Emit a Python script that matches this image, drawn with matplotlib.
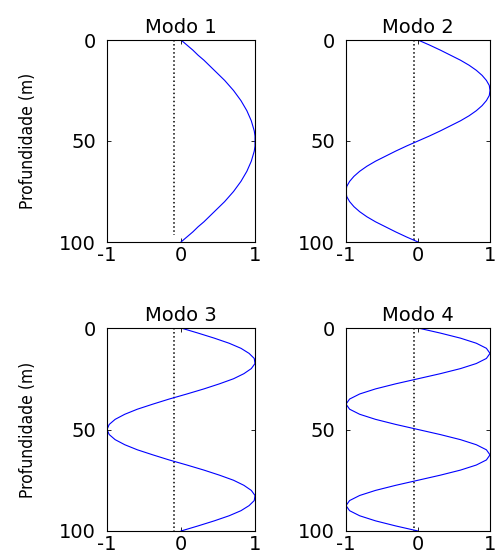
import numpy as np
import matplotlib.pyplot as plt

plt.rcParams['font.family'] = ['DejaVu Sans']
plt.rcParams['axes.unicode_minus'] = False

# profundidade (m), passo de 2.5 m
depth = np.arange(0, 100.01, 2.5)

modo1 = [0, .08, .16, .23, .31, .38, .45, .52, .59, .65, .71, .76, .81, .85, .89, .92, .95, .97, .99, 1.0, 1.0,
         1.0, .99, .97, .95, .92, .89, .85, .81, .76, .71, .65, .59, .52, .45, .38, .31, .23, .16, .08, 0]
modo2 = [0, .16, .31, .45, .59, .71, .81, .89, .95, .99, 1.0, .99, .95, .89, .81, .71, .59, .45, .31, .16, 0,
         -.16, -.31, -.45, -.59, -.71, -.81, -.89, -.95, -.99, -1.0, -.99, -.95, -.89, -.81, -.71, -.59, -.45, -.31, -.16, 0]
modo3 = [0, .23, .45, .65, .81, .92, .99, 1.0, .95, .85, .71, .52, .31, .08, -.16, -.38, -.59, -.76, -.89, -.97, -1.0,
         -.97, -.89, -.76, -.59, -.38, -.16, .08, .31, .52, .71, .85, .95, 1.0, .99, .92, .81, .65, .45, .23, 0]
modo4 = [0, .31, .59, .81, .95, 1.0, .95, .81, .59, .31, 0, -.31, -.59, -.81, -.95, -1.0, -.95, -.81, -.59, -.31, 0,
         .31, .59, .81, .95, 1.0, .95, .81, .59, .31, 0, -.31, -.59, -.81, -.95, -1.0, -.95, -.81, -.59, -.31, 0]

modos = [modo1, modo2, modo3, modo4]
titulos = ['Modo 1', 'Modo 2', 'Modo 3', 'Modo 4']
# linha de referencia (zero) pontilhada: posicao x e profundidade final
ref_x = [-0.09, -0.05, -0.09, -0.05]
ref_fim = [96.5, 100, 100, 100]

fig = plt.figure(figsize=(4.96, 5.56), dpi=100)
W, H = 496., 556.
# caixas dos eixos em pixels: esquerda, topo, direita, base
caixas = [(107, 40, 255, 242), (346, 40, 490, 242),
          (107, 328, 255, 531), (346, 328, 490, 531)]

for i in range(4):
    l, t, r, b = caixas[i]
    ax = fig.add_axes([l / W, 1 - b / H, (r - l) / W, (b - t) / H])
    ax.plot(ref_x[i] * np.ones(2), [0, ref_fim[i]], 'k:', lw=1.1)
    ax.plot(modos[i], depth, color='#0000ff', lw=0.8)
    ax.set_xlim(-1, 1)
    ax.set_ylim(100, 0)
    ax.set_xticks([-1, 0, 1])
    ax.set_yticks([0, 50, 100])
    ax.tick_params(direction='in', length=3, width=0.6, labelsize=14,
                   top=True, right=True)
    ax.tick_params(axis='y', pad=8)
    ax.tick_params(axis='x', pad=3)
    for s in ax.spines.values():
        s.set_linewidth(0.8)
    ax.set_title(titulos[i], fontsize=14, pad=5)
    if i % 2 == 0:
        ax.set_ylabel('Profundidade (m)', fontsize=12.5, fontstretch='condensed')
        ax.yaxis.set_label_coords(-0.47, 0.5)

fig.savefig('out.png', dpi=100)
